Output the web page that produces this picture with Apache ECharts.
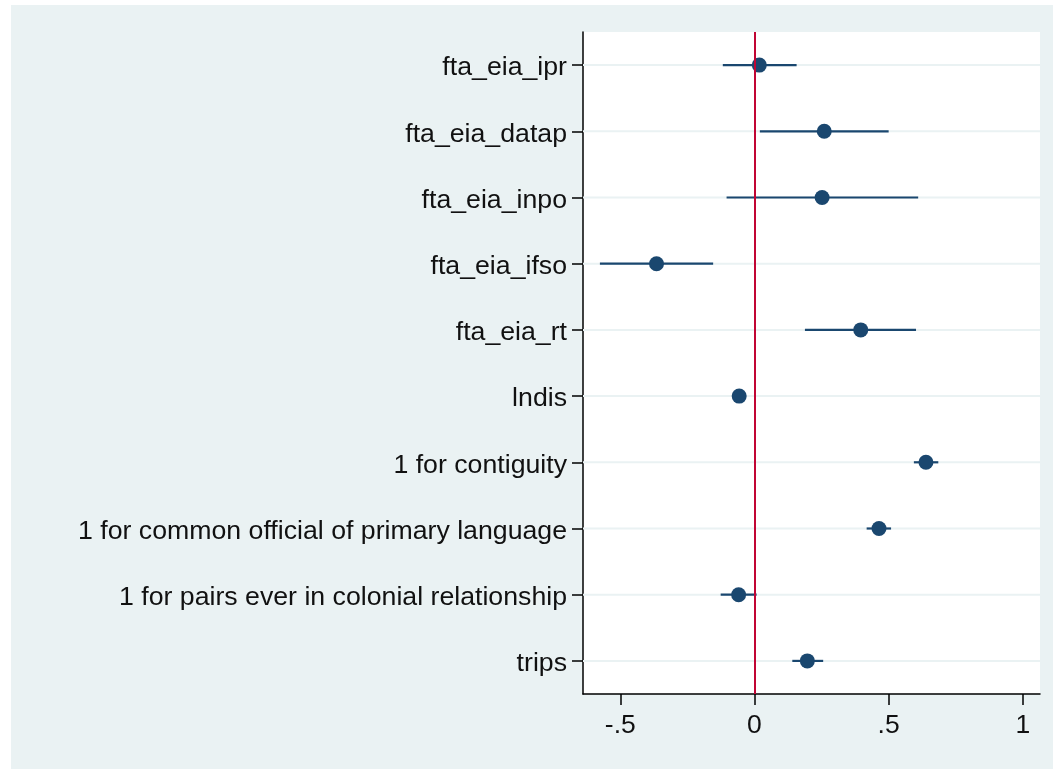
<!DOCTYPE html>
<html><head><meta charset="utf-8">
<script src="https://cdn.jsdelivr.net/npm/echarts@6/dist/echarts.min.js"></script>
<style>
html,body{margin:0;padding:0;background:#ffffff;}
#chart{position:absolute;left:11px;top:5px;width:1042px;height:764px;}
</style></head>
<body><div id="chart"></div>
<script>
const categories = ["fta_eia_ipr","fta_eia_datap","fta_eia_inpo","fta_eia_ifso","fta_eia_rt","lndis","1 for contiguity","1 for common official of primary language","1 for pairs ever in colonial relationship","trips"];
const estimates = [0.018, 0.260, 0.252, -0.365, 0.396, -0.057, 0.639, 0.464, -0.059, 0.197];
const ciLow  = [-0.118, 0.020, -0.104, -0.576, 0.188, -0.070, 0.594, 0.418, -0.126, 0.141];
const ciHigh = [0.157, 0.500, 0.610, -0.154, 0.602, -0.044, 0.685, 0.509, 0.008, 0.256];
const xTicks = [-0.5, 0, 0.5, 1];
const refLine = 0;

const navy = '#1a476f';
const chart = echarts.init(document.getElementById('chart'));
const fmt = v => { if (v === 0) return '0'; let s = String(v); return s.replace(/^(-?)0\./, '$1.'); };

chart.setOption({
  backgroundColor: '#eaf2f3',
  animation: false,
  textStyle: { fontFamily: 'Liberation Sans, Arial, sans-serif' },
  grid: { left: 572, top: 27, width: 457, height: 662, show: true, backgroundColor: '#ffffff', borderWidth: 0 },
  xAxis: {
    type: 'value', min: -0.639, max: 1.064,
    axisLine: { show: true, onZero: false, lineStyle: { color: '#000', width: 1.5 } },
    axisTick: { show: true, length: 11, lineStyle: { color: '#000', width: 1.5 }, customValues: xTicks },
    axisLabel: { show: true, color: '#111', fontSize: 26.5, margin: 18, customValues: xTicks, formatter: fmt },
    splitLine: { show: false }
  },
  yAxis: {
    type: 'category', data: categories, inverse: true,
    axisLine: { show: true, onZero: false, lineStyle: { color: '#000', width: 1.5 } },
    axisTick: { show: true, length: 11, alignWithLabel: true, lineStyle: { color: '#000', width: 1.5 } },
    axisLabel: {
      color: '#111', fontSize: 26.7, margin: 16,
      formatter: v => '{a|' + v + '}',
      rich: { a: { fontSize: 26.7, color: '#111', fontFamily: 'Liberation Sans, Arial, sans-serif', padding: [6, 0, 0, 0] } }
    },
    splitLine: { show: false }
  },
  series: [
    {
      type: 'custom', silent: true, z: 1,
      data: categories.map((c, i) => [i]),
      renderItem: (params, api) => {
        const y = api.coord([0, api.value(0)])[1];
        const cs = params.coordSys;
        return { type: 'line', shape: { x1: cs.x, y1: y, x2: cs.x + cs.width, y2: y }, style: { stroke: '#eaf2f3', lineWidth: 2 } };
      },
      markLine: {
        silent: true, symbol: 'none', label: { show: false },
        lineStyle: { color: '#c10534', width: 2, type: 'solid' },
        data: [{ xAxis: refLine }]
      }
    },
    {
      type: 'custom', silent: true, z: 3,
      data: categories.map((c, i) => [ciLow[i], ciHigh[i], i]),
      renderItem: (params, api) => {
        const p1 = api.coord([api.value(0), api.value(2)]);
        const p2 = api.coord([api.value(1), api.value(2)]);
        return { type: 'line', shape: { x1: p1[0], y1: p1[1], x2: p2[0], y2: p2[1] }, style: { stroke: navy, lineWidth: 2.2 } };
      }
    },
    {
      type: 'scatter', z: 4, symbol: 'circle', symbolSize: 15,
      itemStyle: { color: navy, opacity: 1 },
      data: categories.map((c, i) => [estimates[i], i])
    }
  ]
});
</script></body></html>
